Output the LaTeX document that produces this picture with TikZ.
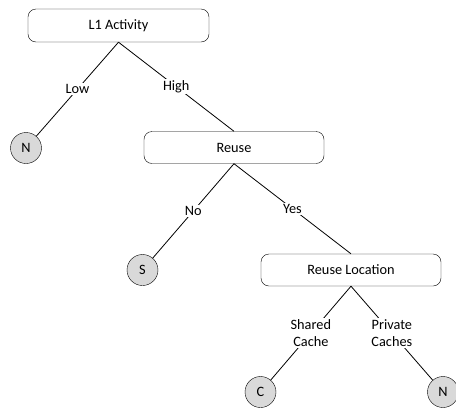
\documentclass[tikz,border=0pt]{standalone}
\usepackage{fontspec}
\setmainfont{Carlito}
\definecolor{Leaf}{HTML}{D9D9D9}

\begin{document}
\begin{tikzpicture}[x=1pt,y=-1pt,font=\fontsize{14.3}{17}\selectfont,box/.style={draw=black,rounded corners=8pt,minimum width=180pt,minimum height=32pt,inner sep=0pt},leaf/.style={circle,draw=black,fill=Leaf,minimum size=31pt,inner sep=0pt},lbl/.style={fill=white,inner sep=1.5pt,align=center},edge/.style={draw=black,line width=0.8pt}]
 \useasboundingbox (0,0) rectangle (456,408);
 \node[box,minimum width=181pt,minimum height=33pt] (act) at (118.5,25.5) {L1 Activity};
 \node[box] (reuse) at (234,147.5) {Reuse};
 \node[box] (loc) at (351,270) {Reuse Location};
 \node[leaf] (n1) at (26,148) {N};
 \node[leaf] (s) at (142.5,270) {S};
 \node[leaf] (c) at (260.5,392) {C};
 \node[leaf] (n2) at (443,392) {N};
 \draw[edge] (act.south) -- node[lbl] {Low} (n1);
 \draw[edge] (act.south) -- node[lbl] {High} (reuse.north);
 \draw[edge] (reuse.south) -- node[lbl] {No} (s);
 \draw[edge] (reuse.south) -- node[lbl] {Yes} (loc.north);
 \draw[edge] (loc.south) -- node[lbl] {Shared\\Cache} (c);
 \draw[edge] (loc.south) -- node[lbl] {Private\\Caches} (n2);
\end{tikzpicture}
\end{document}
